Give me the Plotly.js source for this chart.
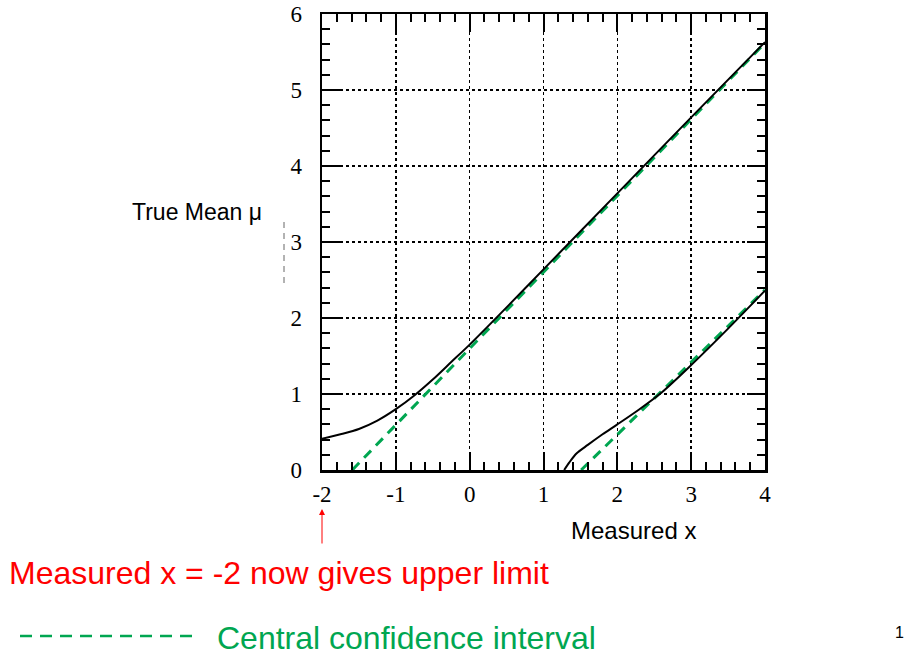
<!DOCTYPE html>
<html>
<head>
<meta charset="utf-8">
<script src="https://cdn.plot.ly/plotly-3.0.1.min.js"></script>
<style>
  html, body { margin: 0; padding: 0; background: #fff; }
  #chart { width: 907px; height: 657px; }
</style>
</head>
<body>
<div id="chart"></div>
<script>
// Confidence belt for a Gaussian mean constrained to be non-negative
const upperX  = [-2, -1.75, -1.5, -1.25, -1, -0.75, -0.5, -0.25, 0, 0.5, 1, 2, 3, 4];
const upperMu = [0.41, 0.47, 0.54, 0.65, 0.80, 0.98, 1.19, 1.42, 1.65, 2.14, 2.64, 3.64, 4.64, 5.63];

const lowerX  = [1.28, 1.35, 1.45, 1.6, 1.8, 2.0, 2.3, 2.6, 3.0, 3.5, 4.0];
const lowerMu = [0, 0.10, 0.22, 0.33, 0.47, 0.60, 0.80, 1.02, 1.38, 1.86, 2.36];

// Central confidence interval edges
const centralUpperX  = [-1.59, 4];
const centralUpperMu = [0, 5.62];
const centralLowerX  = [1.51, 4];
const centralLowerMu = [0, 2.37];

const xTickVals = [-2, -1, 0, 1, 2, 3, 4];
const xTickText = ['-2', '-1', '0', '1', '2', '3', '4'];
const yTickVals = [0, 1, 2, 3, 4, 5, 6];
const yTickText = ['0', '1', '2', '3', '4', '5', '6'];

const GREEN = '#00a651';
const RED = '#ff0000';

const traces = [
  { x: centralUpperX, y: centralUpperMu, mode: 'lines',
    line: { color: GREEN, width: 3, dash: '10px,7px' }, hoverinfo: 'skip' },
  { x: centralLowerX, y: centralLowerMu, mode: 'lines',
    line: { color: GREEN, width: 3, dash: '10px,7px' }, hoverinfo: 'skip' },
  { x: upperX, y: upperMu, mode: 'lines',
    line: { color: '#000', width: 2, shape: 'spline', smoothing: 0.8 }, hoverinfo: 'skip' },
  { x: lowerX, y: lowerMu, mode: 'lines',
    line: { color: '#000', width: 2, shape: 'spline', smoothing: 0.8 }, hoverinfo: 'skip' }
];

// plot area in pixels: x 322..765, y 14..470
const PL = 322, PR = 765, PT = 14, PB = 470;
const px = v => (v - PL) / (PR - PL);
const py = v => (PB - v) / (PB - PT);

const tickFont = { family: 'Liberation Serif, Times New Roman, serif', size: 23, color: '#000' };
const sansFont = 'Liberation Sans, Arial, sans-serif';

const axisCommon = {
  showline: true, linecolor: '#000', linewidth: 2.5, mirror: 'allticks',
  ticks: 'inside', ticklen: 18, tickwidth: 2, tickcolor: '#000',
  showgrid: true, gridcolor: '#000', gridwidth: 1.5, griddash: 'dot',
  zeroline: false, tickmode: 'array', tickfont: tickFont,
  fixedrange: true
};

const layout = {
  width: 907, height: 657, autosize: false,
  margin: { l: PL, r: 907 - PR, t: PT, b: 657 - PB, pad: 0 },
  paper_bgcolor: '#fff', plot_bgcolor: '#fff',
  showlegend: false,
  xaxis: Object.assign({}, axisCommon, {
    range: [-2, 4], tickvals: xTickVals, ticktext: xTickText,
    ticklabelstandoff: 2,
    minor: { dtick: 0.2, ticks: 'inside', ticklen: 8, tickwidth: 2, tickcolor: '#000', showgrid: false }
  }),
  yaxis: Object.assign({}, axisCommon, {
    range: [0, 6], tickvals: yTickVals, ticktext: yTickText,
    ticklabelstandoff: 13,
    minor: { dtick: 0.2, ticks: 'inside', ticklen: 8, tickwidth: 2, tickcolor: '#000', showgrid: false }
  }),
  shapes: [
    // thin dashed mark beside the y labels
    { type: 'line', xref: 'paper', yref: 'paper',
      x0: px(284), x1: px(284), y0: py(222), y1: py(286),
      line: { color: '#666', width: 1, dash: '6px,5px' } },
    // legend sample for the central interval
    { type: 'line', xref: 'paper', yref: 'paper',
      x0: px(20), x1: px(192), y0: py(636), y1: py(636),
      line: { color: GREEN, width: 2.5, dash: '12px,8px' } }
  ],
  annotations: [
    { text: 'True Mean μ', xref: 'paper', yref: 'paper', x: px(130), y: py(212),
      xanchor: 'left', yanchor: 'middle', showarrow: false,
      font: { family: sansFont, size: 23, color: '#000' } },
    { text: 'Measured x', xref: 'paper', yref: 'paper', x: px(633), y: py(530),
      xanchor: 'center', yanchor: 'middle', showarrow: false,
      font: { family: sansFont, size: 24, color: '#000' } },
    { text: '', xref: 'x', yref: 'paper', x: -2, y: py(509),
      ax: 0, ay: 36, showarrow: true, arrowhead: 2, arrowsize: 1.2, arrowwidth: 1,
      arrowcolor: RED },
    { text: 'Measured x = -2 now gives upper limit', xref: 'paper', yref: 'paper',
      x: px(7), y: py(573), xanchor: 'left', yanchor: 'middle', showarrow: false,
      font: { family: sansFont, size: 32, color: RED } },
    { text: 'Central confidence interval', xref: 'paper', yref: 'paper',
      x: px(215), y: py(638), xanchor: 'left', yanchor: 'middle', showarrow: false,
      font: { family: sansFont, size: 32, color: GREEN } },
    { text: '1', xref: 'paper', yref: 'paper', x: px(906), y: py(632),
      xanchor: 'right', yanchor: 'middle', showarrow: false,
      font: { family: sansFont, size: 16, color: '#000' } }
  ]
};

Plotly.newPlot('chart', traces, layout, { staticPlot: true, displayModeBar: false });
</script>
</body>
</html>
